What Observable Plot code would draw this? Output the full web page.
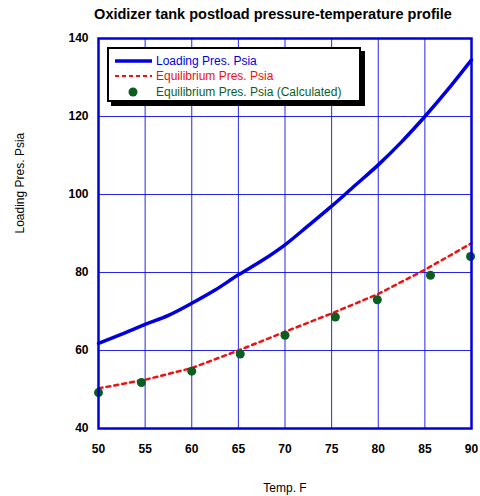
<!DOCTYPE html>
<html>
<head>
<meta charset="utf-8">
<script src="https://cdn.jsdelivr.net/npm/d3@7"></script>
<script src="https://cdn.jsdelivr.net/npm/@observablehq/plot@0.6"></script>
<style>
  html, body { margin: 0; padding: 0; background: white; }
  #wrap { position: relative; width: 480px; height: 496px; font-family: "Liberation Sans", Arial, sans-serif; }
  #title { position: absolute; top: 6px; left: 33px; width: 480px; text-align: center; font-weight: bold; font-size: 14.5px; color: #000; }
  #legend { position: absolute; left: 107px; top: 47px; width: 250px; height: 51px; border: 2px solid #000; background: #fff; box-shadow: 4px 4px 0 #000; font-size: 12px; }
  .row { position: absolute; left: 4px; height: 15px; display: flex; align-items: center; }
  .row svg { margin-right: 3px; }
</style>
</head>
<body>
<div id="wrap">
  <div id="chart"></div>
  <div id="title">Oxidizer tank postload pressure-temperature profile</div>
  <div id="legend"></div>
</div>
<script>
// Tick values
const xTicks = [50, 55, 60, 65, 70, 75, 80, 85, 90];
const yTicks = [40, 60, 80, 100, 120, 140];

// Loading pressure curve (Psia) vs temperature (F)
const loadTemp = [50, 52.5, 55, 57.5, 60, 62.5, 65, 67.5, 70, 72.5, 75, 77.5, 80, 82.5, 85, 87.5, 90];
const loadPres = [61.8, 64.2, 66.7, 69.0, 72.1, 75.5, 79.4, 83.0, 87.1, 92.0, 97.0, 102.3, 107.6, 113.5, 120.0, 127.0, 134.5];

// Equilibrium pressure curve (dashed)
const eqTemp = [50, 55, 60, 65, 70, 75, 80, 85, 90];
const eqPres = [50.3, 52.5, 55.5, 60.0, 64.8, 69.5, 74.5, 80.7, 87.5];

// Equilibrium pressure, calculated points
const calcTemp = [50, 54.6, 60, 65.2, 70, 75.4, 79.9, 85.6, 89.9];
const calcPres = [49.2, 51.8, 54.7, 59.1, 63.9, 68.6, 73.0, 79.3, 84.1];

// Legend entries
const legendLabels = ["Loading Pres. Psia", "Equilibrium Pres. Psia", "Equilibrium Pres. Psia (Calculated)"];

const BLUE = "#0000dd";
const RED = "#ee1111";
const GREEN = "#0b5e1f";

const loadData = loadTemp.map((t, i) => ({t, p: loadPres[i]}));
const eqData = eqTemp.map((t, i) => ({t, p: eqPres[i]}));
const calcData = calcTemp.map((t, i) => ({t, p: calcPres[i]}));

const chart = Plot.plot({
  width: 480,
  height: 496,
  marginTop: 38,
  marginBottom: 68,
  marginLeft: 98,
  marginRight: 9,
  style: { fontFamily: "'Liberation Sans', Arial, sans-serif", fontSize: "12px", background: "white", color: "#000" },
  x: { domain: [50, 90] },
  y: { domain: [40, 140] },
  marks: [
    Plot.gridX(xTicks, { stroke: BLUE, strokeOpacity: 0.85, strokeWidth: 1 }),
    Plot.gridY(yTicks, { stroke: BLUE, strokeOpacity: 0.85, strokeWidth: 1 }),
    Plot.axisX(xTicks, { tickSize: 0, tickPadding: 16, fontWeight: "bold", fontSize: 12, label: null }),
    Plot.axisY(yTicks, { tickSize: 0, tickPadding: 10, fontWeight: "bold", fontSize: 12, label: null }),
    Plot.text(["Temp. F"], { frameAnchor: "bottom", dy: 60, lineAnchor: "middle", fontSize: 12 }),
    Plot.text(["Loading Pres. Psia"], { frameAnchor: "left", dx: -78, rotate: -90, fontSize: 12 }),
    Plot.line(eqData, { x: "t", y: "p", stroke: RED, strokeWidth: 2.5, strokeDasharray: "4,4" }),
    Plot.line(loadData, { x: "t", y: "p", stroke: BLUE, strokeWidth: 3.5, curve: "monotone-x" }),
    Plot.dot(calcData, { x: "t", y: "p", r: 4.5, fill: GREEN, stroke: "none" }),
    Plot.frame({ stroke: BLUE, strokeWidth: 2.5 })
  ]
});
document.getElementById("chart").appendChild(chart);

// Legend
const legend = document.getElementById("legend");
const swatches = [
  `<svg width="40" height="10"><line x1="2" y1="5" x2="39" y2="5" stroke="${BLUE}" stroke-width="3.5"/></svg>`,
  `<svg width="40" height="10"><line x1="2" y1="5" x2="39" y2="5" stroke="${RED}" stroke-width="2" stroke-dasharray="4,3"/></svg>`,
  `<svg width="40" height="10"><circle cx="20" cy="5" r="4.5" fill="${GREEN}"/></svg>`
];
const colors = [BLUE, RED, GREEN];
legendLabels.forEach((lab, i) => {
  const row = document.createElement("div");
  row.className = "row";
  row.style.top = (4 + i * 15.5) + "px";
  row.innerHTML = swatches[i] + `<span style="color:${colors[i]}">${lab}</span>`;
  legend.appendChild(row);
});
</script>
</body>
</html>
